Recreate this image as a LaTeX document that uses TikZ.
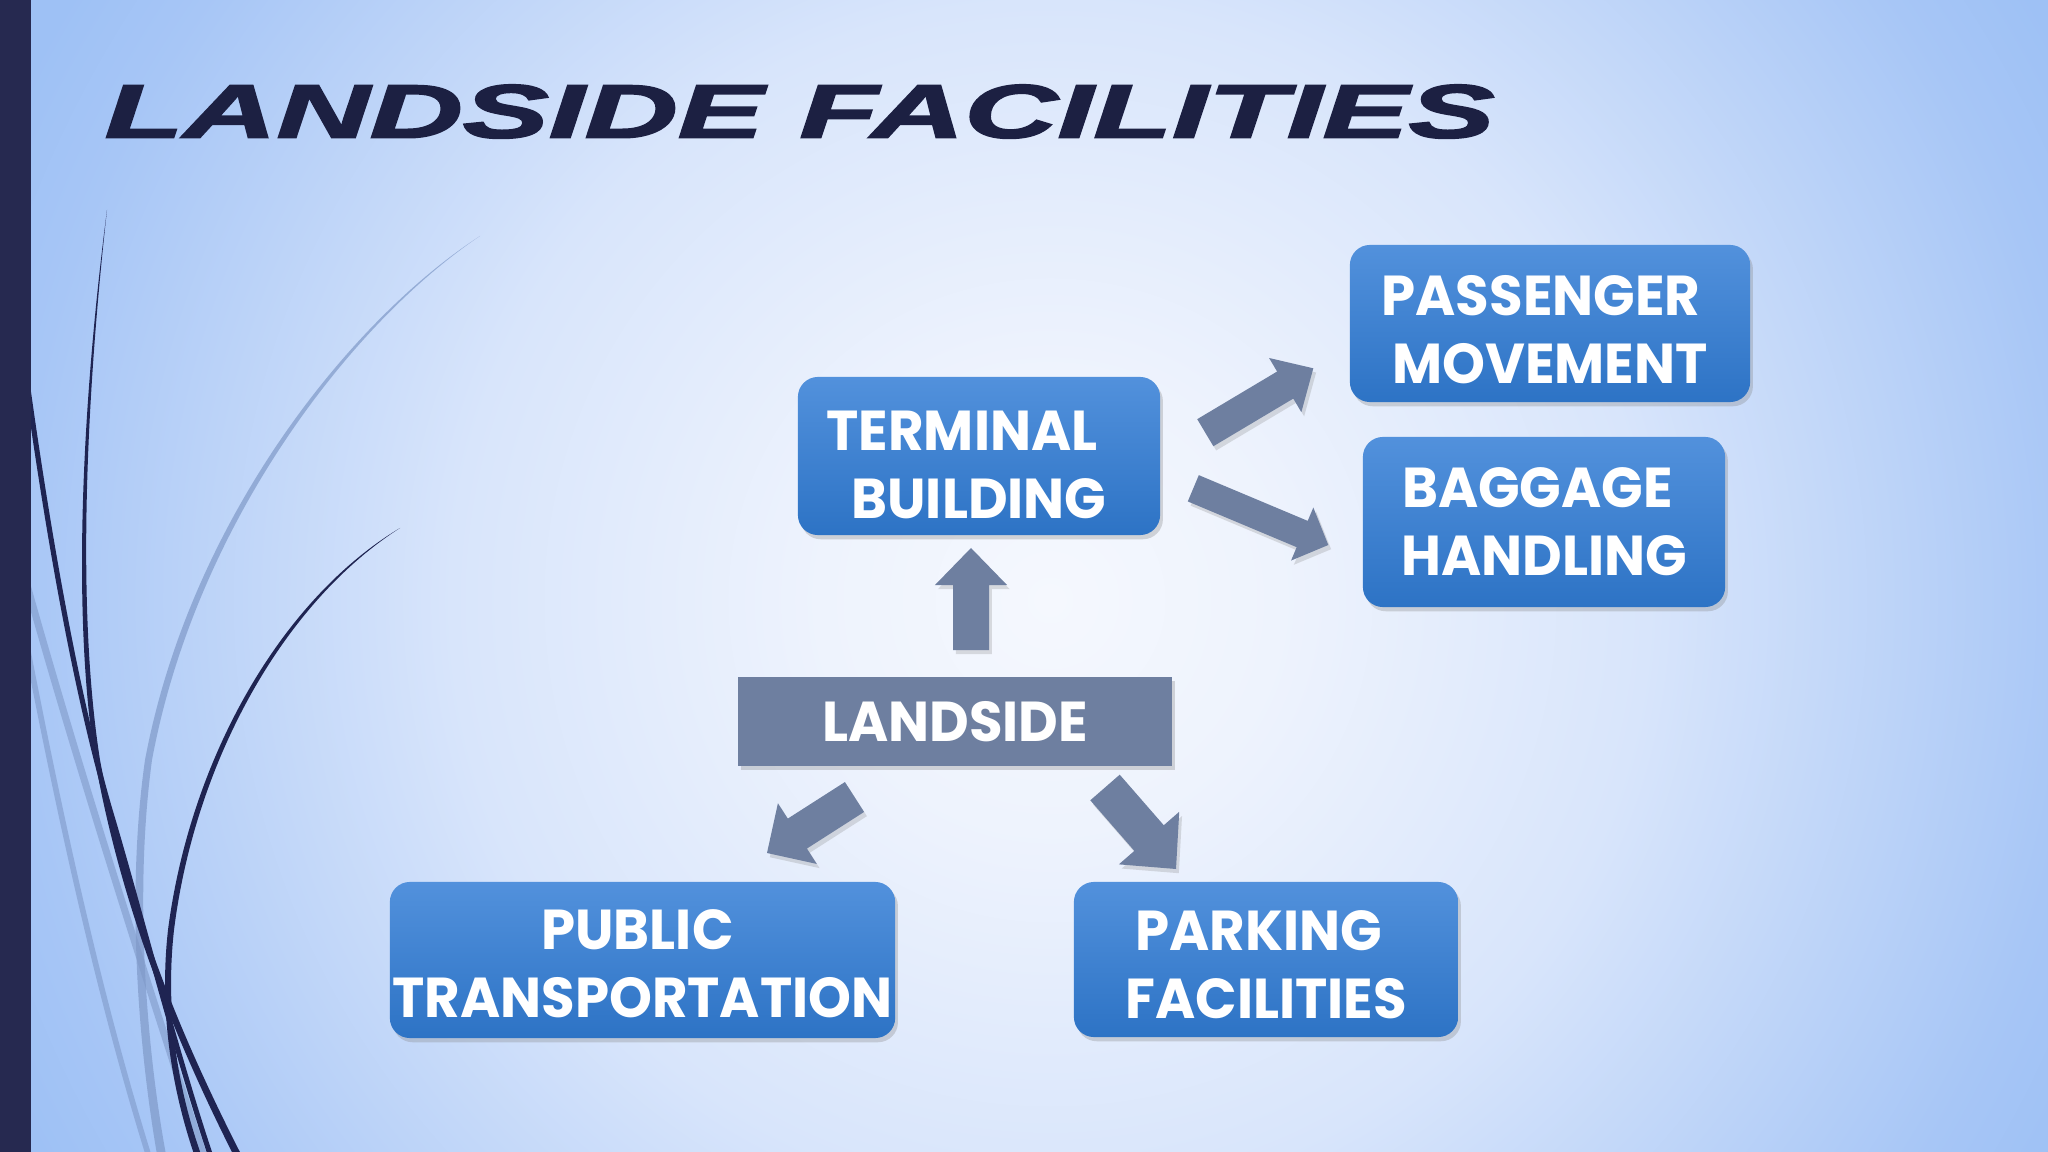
\documentclass[tikz,border=0pt]{standalone}
\usepackage{fontspec}
\usepackage{graphicx}
\usetikzlibrary{calc,shadows}
\newfontfamily\boxfont{Poppins}[FakeStretch=0.97]
\newfontfamily\titlefont{Liberation Sans}[FakeBold=2]
\definecolor{bgc0}{HTML}{F5F8FE}
\definecolor{bgc1}{HTML}{EEF3FD}
\definecolor{bgc2}{HTML}{D8E5FB}
\definecolor{bgc3}{HTML}{A7C6F6}
\definecolor{bgc4}{HTML}{9EC1F5}
\definecolor{navyc}{HTML}{1F2452}
\definecolor{barc}{HTML}{262950}
\definecolor{titlec}{HTML}{1C2042}
\definecolor{boxtop}{HTML}{5291DC}
\definecolor{boxbot}{HTML}{2D73C5}
\definecolor{grayc}{HTML}{6E7FA0}
\definecolor{lightc}{HTML}{7F99C8}
\pgfdeclareradialshading{bgshade}{\pgfpoint{0bp}{0bp}}{color(0bp)=(bgc0); color(5bp)=(bgc1); color(13bp)=(bgc2); color(22.5bp)=(bgc3); color(25bp)=(bgc4); color(50bp)=(bgc4)}
\tikzset{
  boxtext/.style={text=white, align=center, inner sep=0pt,
    font=\boxfont\bfseries\fontsize{16}{19.4}\selectfont},
  bluebox/.style={rounded corners=0.2cm, top color=boxtop, bottom color=boxbot, draw=none,
    inner sep=0pt,
    drop shadow={opacity=0.3, shadow xshift=0.8pt, shadow yshift=-1.2pt}},
  graybox/.style={fill=grayc, draw=none, inner sep=0pt,
    drop shadow={opacity=0.3, shadow xshift=0.8pt, shadow yshift=-1.2pt}},
  arrowfill/.style={fill=grayc, drop shadow={opacity=0.25, shadow xshift=0.8pt, shadow yshift=-1.2pt}}
}
% #1 tail, #2 tip, #3 half shaft, #4 half head, #5 head length
\newcommand{\blockarr}[5]{%
  \coordinate (#1h) at ($(#2)!#5!(#1)$);
  \fill[arrowfill] ($(#1)!#3!90:(#2)$) -- ($(#1h)!#3!-90:(#1)$) -- ($(#1h)!#4!-90:(#1)$)
    -- (#2) -- ($(#1h)!#4!90:(#1)$) -- ($(#1h)!#3!90:(#1)$) -- ($(#1)!#3!-90:(#2)$) -- cycle;}
\begin{document}
\begin{tikzpicture}[x=0.01cm, y=-0.01cm]
\useasboundingbox (0,0) rectangle (2048,1152);
\begin{scope}
  \clip (0,0) rectangle (2048,1152);
  \fill[bgc4] (0,0) rectangle (2048,1152);
  \shade[shading=bgshade] (1050,600) circle (1150);
  % light swooshes
  \fill[lightc, opacity=0.7] (480,236) .. controls (350,320) and (190,520) .. (145,760)
     .. controls (125,900) and (140,1060) .. (158,1160) -- (167,1160)
     .. controls (148,1060) and (133,900) .. (152,760)
     .. controls (196,523) and (352,322) .. (480,236) -- cycle;
  \draw[lightc, opacity=0.6, line width=2pt] (20,560) .. controls (70,740) and (130,930) .. (205,1160);
  \draw[lightc, opacity=0.6, line width=1.6pt] (20,610) .. controls (60,820) and (100,1000) .. (150,1160);
  % dark swooshes
  \fill[navyc] (107,210) .. controls (85,380) and (70,600) .. (95,760)
     .. controls (120,900) and (170,1030) .. (236,1160) -- (244,1160)
     .. controls (177,1030) and (126,900) .. (100,760)
     .. controls (75,600) and (88,380) .. (107,210) -- cycle;
  \draw[navyc, line width=1.45pt] (20,330) .. controls (45,520) and (75,690) .. (110,810)
     .. controls (140,910) and (175,1050) .. (212,1160);
  \fill[navyc] (400,528) .. controls (280,600) and (190,760) .. (168,930)
     .. controls (158,1020) and (175,1100) .. (196,1160) -- (203,1160)
     .. controls (181,1100) and (164,1020) .. (174,930)
     .. controls (195,762) and (283,603) .. (400,528) -- cycle;
\end{scope}
\fill[barc] (0,0) rectangle (31,1152);
% title
\node[anchor=north west, inner sep=0pt, text=titlec] (title) at (104,84)
  {\resizebox{13.89cm}{0.53cm}{\titlefont\bfseries\itshape LANDSIDE FACILITIES}};
% boxes
\node[bluebox, minimum width=3.62cm, minimum height=1.58cm,
  label={[boxtext, yshift=-0.09cm]center:{TERMINAL\hspace*{0.34cm}\\BUILDING}}] (terminal) at (979,456) {};
\node[bluebox, minimum width=4.00cm, minimum height=1.57cm,
  label={[boxtext, yshift=-0.06cm]center:{PASSENGER\hspace*{0.18cm}\\MOVEMENT}}] (passenger) at (1550,323.5) {};
\node[bluebox, minimum width=3.62cm, minimum height=1.70cm,
  label={[boxtext]center:{BAGGAGE\hspace*{0.13cm}\\HANDLING}}] (baggage) at (1544,522) {};
\node[graybox, minimum width=4.34cm, minimum height=0.89cm,
  label={[boxtext]center:LANDSIDE}] (landside) at (955,721.5) {};
\node[bluebox, minimum width=5.05cm, minimum height=1.56cm,
  label={[boxtext, yshift=-0.04cm]center:{PUBLIC\hspace*{0.1cm}\\TRANSPORTATION}}] (public) at (642.5,960) {};
\node[bluebox, minimum width=3.84cm, minimum height=1.55cm,
  label={[boxtext, yshift=-0.055cm]center:{PARKING\hspace*{0.15cm}\\FACILITIES}}] (parking) at (1266,959.5) {};
% arrow coordinates
\coordinate (upT) at (971,650);      \coordinate (upH) at (971,548);
\coordinate (dlT) at (854.5,797);    \coordinate (dlH) at (767,853);
\coordinate (drT) at (1105,787.5);   \coordinate (drH) at (1176,869);
\coordinate (urT) at (1205.3,432.7); \coordinate (urH) at (1313.3,368.3);
\coordinate (rrT) at (1193.3,488.3); \coordinate (rrH) at (1328.3,545);
\blockarr{upT}{upH}{0.18cm}{0.36cm}{0.37cm}
\blockarr{dlT}{dlH}{0.1775cm}{0.36cm}{0.36cm}
\blockarr{drT}{drH}{0.195cm}{0.40cm}{0.41cm}
\blockarr{urT}{urH}{0.1575cm}{0.315cm}{0.327cm}
\blockarr{rrT}{rrH}{0.1425cm}{0.2875cm}{0.283cm}
\end{tikzpicture}
\end{document}
